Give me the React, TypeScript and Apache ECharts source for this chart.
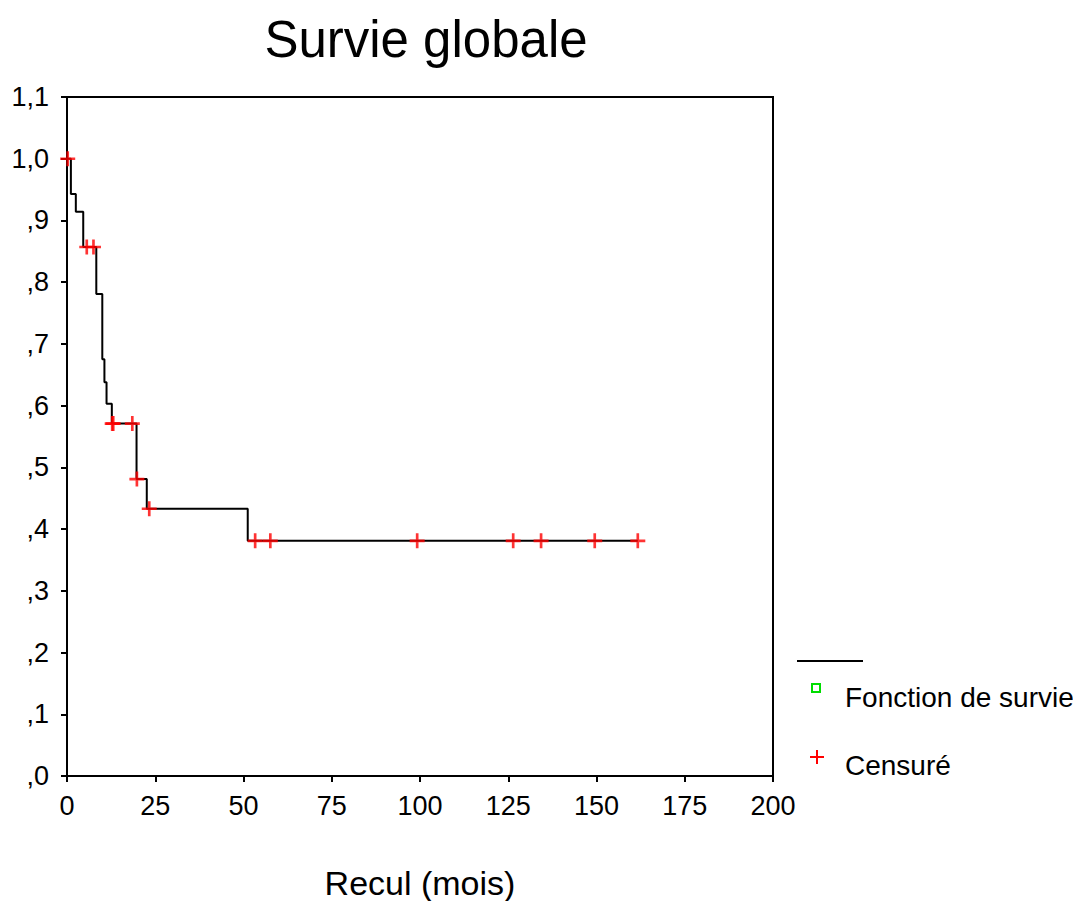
import React, { useEffect, useRef } from "react";
import * as echarts from "echarts";

const stepTimes = [0, 1.1, 2.5, 4.6, 8.3, 10.0, 10.6, 11.2, 12.7, 19.7, 22.6, 51.2, 161.7];
const stepValues = [1.0, 0.943, 0.914, 0.857, 0.781, 0.675, 0.638, 0.603, 0.571, 0.481, 0.433, 0.381, 0.381];

const censorTimes = [0.2, 5.6, 7.5, 12.8, 13.1, 18.5, 19.8, 23.3, 53.3, 57.6, 99.2, 126.4, 134.3, 149.5, 161.7];
const censorValues = [1.0, 0.857, 0.857, 0.571, 0.571, 0.571, 0.481, 0.433, 0.381, 0.381, 0.381, 0.381, 0.381, 0.381, 0.381];

const yTicks = [",0", ",1", ",2", ",3", ",4", ",5", ",6", ",7", ",8", ",9", "1,0", "1,1"];
const xTicks = ["0", "25", "50", "75", "100", "125", "150", "175", "200"];

const PLUS = "path://M5.75,0 H8.25 V5.75 H14 V8.25 H8.25 V14 H5.75 V8.25 H0 V5.75 H5.75 Z";

export default function App() {
  const ref = useRef<HTMLDivElement>(null);
  useEffect(() => {
    if (!ref.current) return;
    const chart = echarts.init(ref.current, null, { renderer: "svg" });
    const font = "'Liberation Sans', Arial, sans-serif";
    chart.setOption({
      animation: false,
      backgroundColor: "#fff",
      textStyle: { fontFamily: font },
      title: {
        text: "Survie globale",
        left: 421,
        top: 9,
        textAlign: "center",
        textStyle: { fontSize: 51, fontWeight: "normal", color: "#000", fontFamily: font },
      },
      grid: {
        left: 67,
        right: 308,
        top: 97,
        bottom: 133,
        show: true,
        borderColor: "#000",
        borderWidth: 2,
        backgroundColor: "transparent",
      },
      xAxis: {
        type: "value",
        min: 0,
        max: 200,
        interval: 25,
        name: "Recul (mois)",
        nameLocation: "middle",
        nameGap: 90,
        nameTextStyle: { fontSize: 34, color: "#000", fontFamily: font },
        axisLine: { show: true, lineStyle: { color: "#000", width: 2 } },
        axisTick: { show: true, inside: false, length: 6, lineStyle: { color: "#000", width: 2 } },
        axisLabel: {
          fontSize: 27,
          color: "#000",
          margin: 16,
          fontFamily: font,
          formatter: (v: number) => xTicks[Math.round(v / 25)] ?? "",
        },
        splitLine: { show: false },
      },
      yAxis: {
        type: "value",
        min: 0,
        max: 1.1,
        interval: 0.1,
        axisLine: { show: true, lineStyle: { color: "#000", width: 2 } },
        axisTick: { show: true, inside: false, length: 6, lineStyle: { color: "#000", width: 2 } },
        axisLabel: {
          fontSize: 27,
          color: "#000",
          margin: 18,
          fontFamily: font,
          formatter: (v: number) => yTicks[Math.round(v * 10)] ?? "",
        },
        splitLine: { show: false },
      },
      series: [
        {
          type: "line",
          step: "end",
          data: stepTimes.map((t, i) => [t, stepValues[i]]),
          showSymbol: false,
          lineStyle: { color: "#000", width: 2 },
          z: 2,
        },
        {
          type: "scatter",
          data: censorTimes.map((t, i) => [t, censorValues[i]]),
          symbol: PLUS,
          symbolSize: 15,
          itemStyle: { color: "#ff0000" },
          z: 3,
        },
      ],
      graphic: [
        { type: "line", shape: { x1: 797, y1: 661, x2: 863, y2: 661 }, style: { stroke: "#000", lineWidth: 2 } },
        { type: "rect", shape: { x: 812, y: 684, width: 8, height: 8 }, style: { fill: "none", stroke: "#00dd00", lineWidth: 2 } },
        { type: "text", x: 845, y: 697, style: { text: "Fonction de survie", font: "28px 'Liberation Sans', sans-serif", fill: "#000", textVerticalAlign: "middle" } },
        { type: "line", shape: { x1: 810, y1: 757, x2: 824, y2: 757 }, style: { stroke: "#ff0000", lineWidth: 2 } },
        { type: "line", shape: { x1: 817, y1: 750, x2: 817, y2: 764 }, style: { stroke: "#ff0000", lineWidth: 2 } },
        { type: "text", x: 845, y: 765, style: { text: "Censuré", font: "28px 'Liberation Sans', sans-serif", fill: "#000", textVerticalAlign: "middle" } },
      ],
    });
    return () => chart.dispose();
  }, []);
  return <div ref={ref} style={{ width: 1081, height: 909, margin: -8 }} />;
}
